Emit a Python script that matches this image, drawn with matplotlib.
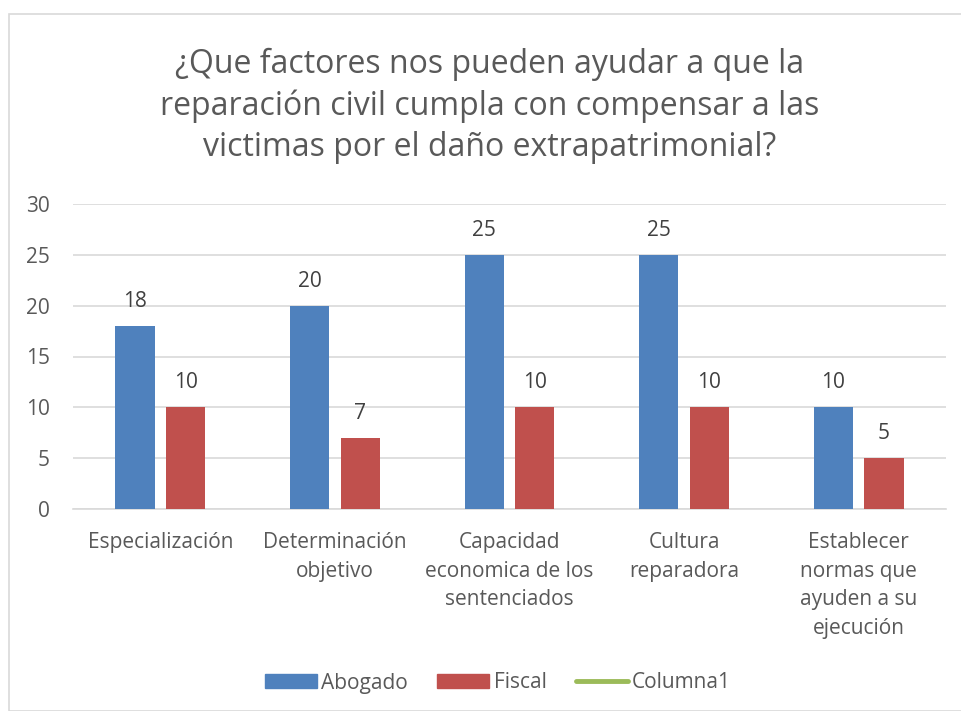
import matplotlib
matplotlib.use("Agg")
import matplotlib.pyplot as plt
from matplotlib.patches import Rectangle, Patch
from matplotlib.lines import Line2D
import numpy as np

categories = ["Especialización", "Determinación\nobjetivo", "Capacidad\neconomica de los\nsentenciados",
              "Cultura\nreparadora", "Establecer\nnormas que\nayuden a su\nejecución"]
abogado = [18, 20, 25, 25, 10]
fiscal = [10, 7, 10, 10, 5]
yticks = [0, 5, 10, 15, 20, 25, 30]
title = "¿Que factores nos pueden ayudar a que la\nreparación civil cumpla con compensar a las\nvictimas por el daño extrapatrimonial?"

plt.rcParams['font.family'] = ['Open Sans', 'DejaVu Sans']
txt = '#595959'
blue = '#4F81BD'
red = '#C0504D'
green = '#9BBB59'

fig = plt.figure(figsize=(9.61, 7.11), dpi=100)
fig.patches.append(Rectangle((9/961, 0), 1, 1 - 14/711, transform=fig.transFigure,
                             fill=False, edgecolor='#D9D9D9', linewidth=1.2))
ax = fig.add_axes([73/961, 1 - 509/711, (946 - 73)/961, (509 - 204)/711])

x = np.arange(len(categories))
w = 0.225
gap = 0.065
b1 = ax.bar(x - (w + gap) / 2, abogado, w, color=blue, label='Abogado', zorder=3)
b2 = ax.bar(x + (w + gap) / 2, fiscal, w, color=red, label='Fiscal', zorder=3)
for bars in (b1, b2):
    for r in bars:
        ax.annotate(f"{int(r.get_height())}", (r.get_x() + r.get_width() / 2, r.get_height()),
                    xytext=(0, 10), textcoords='offset points', ha='center', va='bottom',
                    fontsize=15, color='#404040')

ax.set_xlim(-0.5, len(categories) - 0.5)
ax.set_ylim(0, 30)
ax.set_yticks(yticks)
ax.yaxis.grid(True, color='#D9D9D9', linewidth=1.2, zorder=0)
for s in ['top', 'right', 'left']:
    ax.spines[s].set_visible(False)
ax.spines['bottom'].set_color('#D9D9D9')
ax.spines['bottom'].set_linewidth(1.2)
ax.set_xticks(x)
ax.set_xticklabels(categories, linespacing=1.48)
ax.tick_params(axis='both', length=0, labelsize=15, colors=txt)
ax.tick_params(axis='x', pad=16.5)
ax.tick_params(axis='y', pad=16.5)

fig.text(490/961, 1 - 106/711, title, ha='center', va='center', fontsize=23,
         color=txt, linespacing=1.33)

handles = [Patch(color=blue, label='Abogado'), Patch(color=red, label='Fiscal'),
           Line2D([0], [0], color=green, linewidth=3.5, solid_capstyle='round', label='Columna1')]
fig.legend(handles=handles, loc='center', bbox_to_anchor=(498/961, 1 - 683/711), ncol=3,
           frameon=False, fontsize=15, labelcolor=txt, handlelength=2.5, handleheight=0.67,
           handletextpad=0.2, columnspacing=1.4)

fig.savefig('out.png', dpi=100)
